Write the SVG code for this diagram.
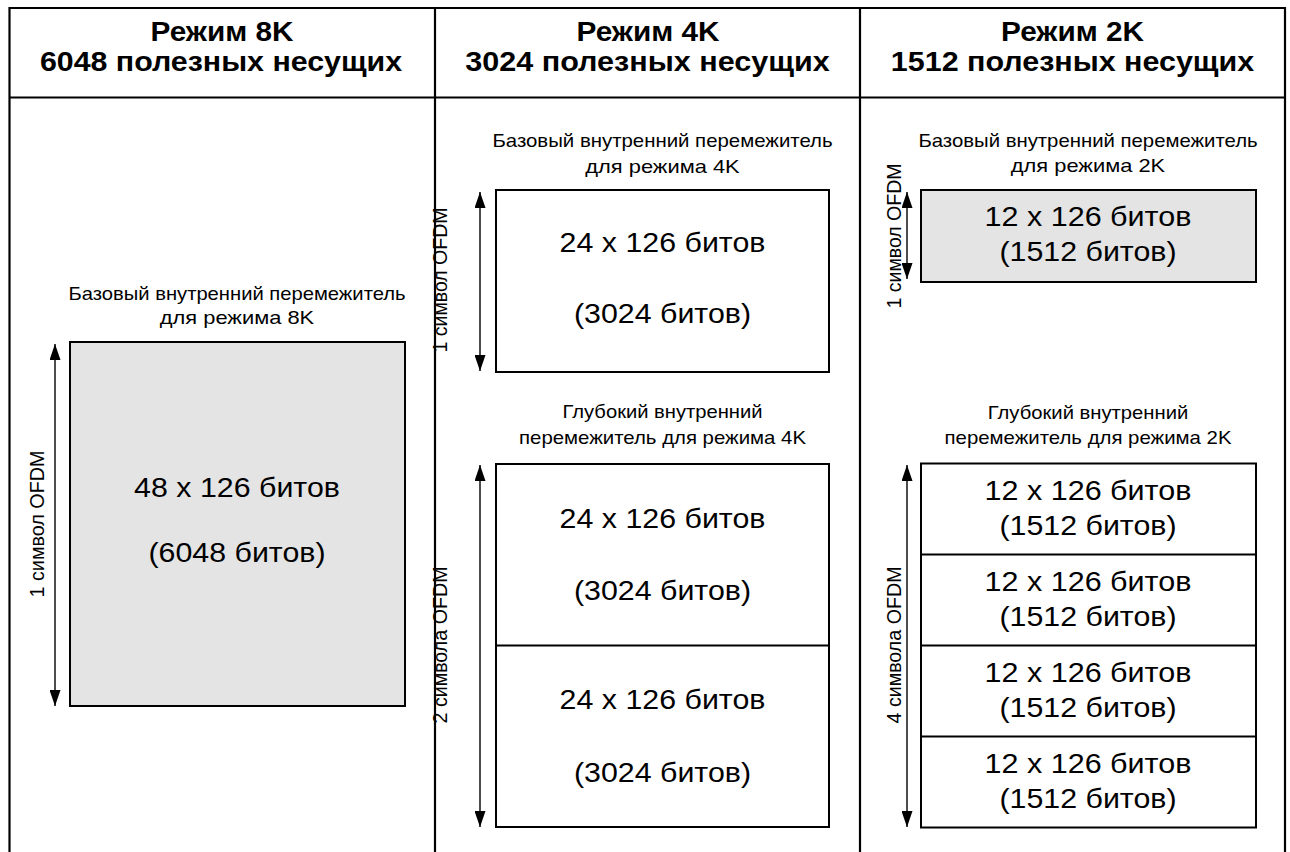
<svg xmlns="http://www.w3.org/2000/svg" width="1290" height="852" viewBox="0 0 1290 852">
<style>
.frame{stroke:#000;stroke-width:2.2;fill:none}
.box{stroke:#000;stroke-width:2;fill:#fff}
.gray{stroke:#000;stroke-width:2;fill:#e4e4e4}
.div{stroke:#000;stroke-width:2}
text{font-family:"Liberation Sans",Arial,sans-serif;fill:#000;text-anchor:middle}
.hd{font-weight:bold;font-size:27px}
.sm{font-size:19px}
.big{font-size:28px}
.rot{font-size:19px}
.arr{stroke:#000;stroke-width:1.4;fill:none;marker-start:url(#ah);marker-end:url(#ah)}
</style>
<defs>
<marker id="ah" viewBox="0 0 16 11" refX="16" refY="5.5" markerWidth="16" markerHeight="11" markerUnits="userSpaceOnUse" orient="auto-start-reverse">
<path d="M0,0 L16,5.5 L0,11 z" fill="#000"/>
</marker>
</defs>
<rect width="1290" height="852" fill="#fff"/>
<g id="frame">
<path class="frame" d="M9.5,860 V8 H1285 V860"/>
<line class="frame" x1="435" y1="8" x2="435" y2="860"/>
<line class="frame" x1="860" y1="8" x2="860" y2="860"/>
<line class="frame" x1="9.5" y1="97.5" x2="1285" y2="97.5"/>
</g>
<g id="header-8k">
<text class="hd" transform="translate(222,41) scale(1.05,1)" textLength="136" lengthAdjust="spacingAndGlyphs">Режим 8K</text>
<text class="hd" transform="translate(221,71) scale(1.05,1)" textLength="345" lengthAdjust="spacingAndGlyphs">6048 полезных несущих</text>
</g>
<g id="header-4k">
<text class="hd" transform="translate(648,41) scale(1.05,1)" textLength="136" lengthAdjust="spacingAndGlyphs">Режим 4K</text>
<text class="hd" transform="translate(647.5,71) scale(1.05,1)" textLength="347" lengthAdjust="spacingAndGlyphs">3024 полезных несущих</text>
</g>
<g id="header-2k">
<text class="hd" transform="translate(1072.5,41) scale(1.05,1)" textLength="136" lengthAdjust="spacingAndGlyphs">Режим 2K</text>
<text class="hd" transform="translate(1072.5,71) scale(1.05,1)" textLength="346" lengthAdjust="spacingAndGlyphs">1512 полезных несущих</text>
</g>

<g id="basic-8k">
<text class="sm" transform="translate(237,299.5) scale(1.05,1)" textLength="321" lengthAdjust="spacingAndGlyphs">Базовый внутренний перемежитель</text>
<text class="sm" transform="translate(237,323.5) scale(1.05,1)" textLength="147" lengthAdjust="spacingAndGlyphs">для режима 8K</text>
<rect class="gray" x="70" y="342" width="335" height="364"/>
<text class="big" transform="translate(237,497) scale(1.05,1)" textLength="196" lengthAdjust="spacingAndGlyphs">48 x 126 битов</text>
<text class="big" transform="translate(237,562) scale(1.05,1)" textLength="168.6" lengthAdjust="spacingAndGlyphs">(6048 битов)</text>
<text class="rot" transform="translate(44,524) scale(1.05,1) rotate(-90)" textLength="147" lengthAdjust="spacingAndGlyphs">1 символ OFDM</text>
</g>

<g id="basic-4k">
<text class="sm" transform="translate(662.5,147) scale(1.05,1)" textLength="324" lengthAdjust="spacingAndGlyphs">Базовый внутренний перемежитель</text>
<text class="sm" transform="translate(662.5,173) scale(1.05,1)" textLength="147" lengthAdjust="spacingAndGlyphs">для режима 4K</text>
<rect class="box" x="496" y="190" width="333" height="182"/>
<text class="big" transform="translate(662.5,252) scale(1.05,1)" textLength="196" lengthAdjust="spacingAndGlyphs">24 x 126 битов</text>
<text class="big" transform="translate(662.5,323) scale(1.05,1)" textLength="168.6" lengthAdjust="spacingAndGlyphs">(3024 битов)</text>
<text class="rot" transform="translate(447,280) scale(1.05,1) rotate(-90)" textLength="145" lengthAdjust="spacingAndGlyphs">1 символ OFDM</text>
</g>

<g id="deep-4k">
<text class="sm" transform="translate(662.5,418) scale(1.05,1)" textLength="190.5" lengthAdjust="spacingAndGlyphs">Глубокий внутренний</text>
<text class="sm" transform="translate(662.5,443.5) scale(1.05,1)" textLength="273.3" lengthAdjust="spacingAndGlyphs">перемежитель для режима 4K</text>
<rect class="box" x="496" y="464" width="333" height="363"/>
<line class="div" x1="496" y1="645.5" x2="829" y2="645.5"/>
<text class="big" transform="translate(662.5,528) scale(1.05,1)" textLength="196" lengthAdjust="spacingAndGlyphs">24 x 126 битов</text>
<text class="big" transform="translate(662.5,600) scale(1.05,1)" textLength="168.6" lengthAdjust="spacingAndGlyphs">(3024 битов)</text>
<text class="big" transform="translate(662.5,709) scale(1.05,1)" textLength="196" lengthAdjust="spacingAndGlyphs">24 x 126 битов</text>
<text class="big" transform="translate(662.5,782) scale(1.05,1)" textLength="168.6" lengthAdjust="spacingAndGlyphs">(3024 битов)</text>
<text class="rot" transform="translate(447,645) scale(1.05,1) rotate(-90)" textLength="157" lengthAdjust="spacingAndGlyphs">2 символа OFDM</text>
</g>

<g id="basic-2k">
<text class="sm" transform="translate(1088,147) scale(1.05,1)" textLength="323" lengthAdjust="spacingAndGlyphs">Базовый внутренний перемежитель</text>
<text class="sm" transform="translate(1088,172) scale(1.05,1)" textLength="147" lengthAdjust="spacingAndGlyphs">для режима 2K</text>
<rect class="gray" x="921" y="190" width="335" height="92"/>
<text class="big" transform="translate(1088,226) scale(1.05,1)" textLength="197" lengthAdjust="spacingAndGlyphs">12 x 126 битов</text>
<text class="big" transform="translate(1088,261) scale(1.05,1)" textLength="168.6" lengthAdjust="spacingAndGlyphs">(1512 битов)</text>
<text class="rot" transform="translate(901,236) scale(1.05,1) rotate(-90)" textLength="145" lengthAdjust="spacingAndGlyphs">1 символ OFDM</text>
</g>

<g id="deep-2k">
<text class="sm" transform="translate(1088,418.5) scale(1.05,1)" textLength="191" lengthAdjust="spacingAndGlyphs">Глубокий внутренний</text>
<text class="sm" transform="translate(1088,443.5) scale(1.05,1)" textLength="273.3" lengthAdjust="spacingAndGlyphs">перемежитель для режима 2K</text>
<rect class="box" x="921" y="463.5" width="335" height="364"/>
<line class="div" x1="921" y1="554.5" x2="1256" y2="554.5"/>
<line class="div" x1="921" y1="645.5" x2="1256" y2="645.5"/>
<line class="div" x1="921" y1="736.5" x2="1256" y2="736.5"/>
<text class="big" transform="translate(1088,500) scale(1.05,1)" textLength="197" lengthAdjust="spacingAndGlyphs">12 x 126 битов</text>
<text class="big" transform="translate(1088,535) scale(1.05,1)" textLength="168.6" lengthAdjust="spacingAndGlyphs">(1512 битов)</text>
<text class="big" transform="translate(1088,591) scale(1.05,1)" textLength="197" lengthAdjust="spacingAndGlyphs">12 x 126 битов</text>
<text class="big" transform="translate(1088,626) scale(1.05,1)" textLength="168.6" lengthAdjust="spacingAndGlyphs">(1512 битов)</text>
<text class="big" transform="translate(1088,682) scale(1.05,1)" textLength="197" lengthAdjust="spacingAndGlyphs">12 x 126 битов</text>
<text class="big" transform="translate(1088,717) scale(1.05,1)" textLength="168.6" lengthAdjust="spacingAndGlyphs">(1512 битов)</text>
<text class="big" transform="translate(1088,773) scale(1.05,1)" textLength="197" lengthAdjust="spacingAndGlyphs">12 x 126 битов</text>
<text class="big" transform="translate(1088,808) scale(1.05,1)" textLength="168.6" lengthAdjust="spacingAndGlyphs">(1512 битов)</text>
<text class="rot" transform="translate(901,645) scale(1.05,1) rotate(-90)" textLength="157" lengthAdjust="spacingAndGlyphs">4 символа OFDM</text>
</g>

<g id="connectors">
<line class="arr" x1="55" y1="344" x2="55" y2="706"/>
<line class="arr" x1="480" y1="192" x2="480" y2="371"/>
<line class="arr" x1="480" y1="465" x2="480" y2="827"/>
<line class="arr" x1="907" y1="192" x2="907" y2="279"/>
<line class="arr" x1="907" y1="465" x2="907" y2="827"/>
</g>
</svg>
